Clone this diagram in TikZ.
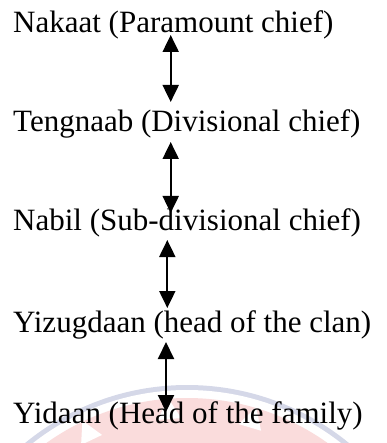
\documentclass[tikz,border=0pt]{standalone}
\usepackage{fontspec}
\setmainfont{Liberation Serif}
\usetikzlibrary{arrows.meta}
\definecolor{ringblue}{HTML}{D5D8E8}
\definecolor{seal}{HTML}{FADCDC}
\tikzset{
  rank/.style={anchor=base west, inner sep=0pt, font=\fontsize{31}{31}\selectfont},
  link/.style={line width=2pt, {Triangle[width=16pt,length=17pt]}-{Triangle[width=16pt,length=17pt]}},
}
\begin{document}
\begin{tikzpicture}[x=1pt,y=-1pt]
\useasboundingbox (0,0) rectangle (386,443);
% faint seal in the background
\begin{scope}
  \clip (0,0) rectangle (386,443);
  \fill[ringblue] (187,640) circle (255);
  \fill[white] (187,640) circle (250);
  \fill[seal] (187,640) circle (242);
  \foreach \a in {-157.5,-136.5,-115.5,-94.5,-73.5,-52.5,-31.5}
    \fill[white, shift={(187,640)}] (\a:243) -- (\a-3:222) -- (\a+3:222) -- cycle;
\end{scope}
% ranks
\node[rank] (n1) at (13,33)  {Nakaat (Paramount chief)};
\node[rank] (n2) at (13,132) {Tengnaab (Divisional chief)};
\node[rank] (n3) at (13,230) {Nabil (Sub-divisional chief)};
\node[rank] (n4) at (13,332) {Yizugdaan (head of the clan)};
\node[rank] (n5) at (13,423) {Yidaan (Head of the family)};
% links between ranks
\draw[link] ([shift={(157.7,2)}]n1.base west) -- ([shift={(157.7,-30)}]n2.base west);
\draw[link] ([shift={(157.7,10)}]n2.base west) -- ([shift={(157.7,-17)}]n3.base west);
\draw[link] ([shift={(154.3,10)}]n3.base west) -- ([shift={(154.3,-24)}]n4.base west);
\draw[link] ([shift={(153,10)}]n4.base west) -- ([shift={(153,-11)}]n5.base west);
\end{tikzpicture}
\end{document}
